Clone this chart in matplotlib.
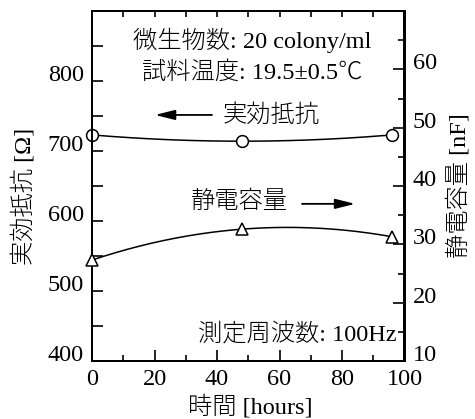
import numpy as np
import matplotlib
matplotlib.use("Agg")
import matplotlib.pyplot as plt
from matplotlib.ticker import FixedLocator, MultipleLocator

# Measurement times [hours]
hours = [0, 48, 96]
# Effective resistance [ohm] (left axis)
resistance = [723, 714, 723]
# Capacitance [nF] (right axis)
capacitance = [27.3, 32.6, 31.3]

left_ticks = [400, 500, 600, 700, 800]
right_ticks = [10, 20, 30, 40, 50, 60]
x_ticks = [0, 20, 40, 60, 80, 100]

plt.rcParams['font.family'] = ['Liberation Serif', 'Noto Sans CJK JP']
plt.rcParams['axes.linewidth'] = 1.4

fig = plt.figure(figsize=(4.75, 4.19), dpi=100)
ax = fig.add_axes([92 / 475, 58 / 419, 312.5 / 475, 350 / 419])
ax2 = ax.twinx()

TICK_FS = 17.5
TXT_FS = 17.5
TXT_W = 'light'


def smooth(xs, ys):
    coef = np.polyfit(xs, ys, 2)
    xx = np.linspace(xs[0], xs[-1], 200)
    return xx, np.polyval(coef, xx)


# Resistance curve with open circles
xr, yr = smooth(hours, resistance)
ax.plot(xr, yr, color='black', lw=1.1, clip_on=False)
ax.plot(hours, resistance, linestyle='none', marker='o', ms=8.5,
        mfc='white', mec='black', mew=1.1, clip_on=False, zorder=5)

# Capacitance curve with open triangles
xc, yc = smooth(hours, capacitance)
ax2.plot(xc, yc, color='black', lw=1.1, clip_on=False)
ax2.plot(hours, capacitance, linestyle='none', marker='^', ms=9,
         mfc='white', mec='black', mew=1.1, clip_on=False, zorder=5)

# x axis
ax.set_xlim(0, 100)
ax.xaxis.set_major_locator(FixedLocator(x_ticks))
ax.xaxis.set_minor_locator(MultipleLocator(10))
ax.set_xticklabels([str(v) for v in x_ticks])
ax.tick_params(axis='x', which='major', direction='in', length=8, width=1.2,
               labelsize=TICK_FS, pad=6)
ax.tick_params(axis='x', which='minor', direction='in', length=4.3, width=1.2)
top = ax.secondary_xaxis('top')
top.xaxis.set_major_locator(MultipleLocator(10))
top.tick_params(direction='in', length=4.3, width=1.2, labeltop=False)
top.set_xticklabels([])

# left axis
ax.set_ylim(400, 900)
ax.yaxis.set_major_locator(FixedLocator(left_ticks))
ax.yaxis.set_minor_locator(MultipleLocator(50))
ax.set_yticklabels([str(v) for v in left_ticks])
ax.tick_params(axis='y', which='both', direction='in', length=8, width=1.2,
               labelsize=TICK_FS, pad=6)

# right axis
ax2.set_ylim(10, 70)
ax2.yaxis.set_major_locator(FixedLocator(right_ticks))
ax2.yaxis.set_minor_locator(MultipleLocator(5))
ax2.set_yticklabels([str(v) for v in right_ticks])
ax2.tick_params(axis='y', which='major', direction='in', length=8, width=1.2,
                labelsize=TICK_FS, pad=6)
ax2.tick_params(axis='y', which='minor', direction='in', length=4, width=1.2)

for lbl in ax.get_yticklabels() + ax2.get_yticklabels():
    lbl.set_verticalalignment('baseline')

# Axis titles
fig.text(250 / 475, 1 - 407 / 419, '時間 [hours]', ha='center', va='center',
         fontsize=TXT_FS, fontweight=TXT_W)
fig.text(24 / 475, 1 - 196 / 419, '実効抵抗 [Ω]', ha='center', va='center',
         rotation=90, fontsize=TXT_FS, fontweight=TXT_W)
fig.text(459 / 475, 1 - 186 / 419, '静電容量 [nF]', ha='center', va='center',
         rotation=90, fontsize=TXT_FS, fontweight=TXT_W)

# Condition notes
ax.text(0.512, 0.917, '微生物数: 20 colony/ml', transform=ax.transAxes,
        ha='center', va='center', fontsize=TXT_FS, fontweight=TXT_W)
ax.text(0.512, 0.826, '試料温度: 19.5±0.5℃', transform=ax.transAxes,
        ha='center', va='center', fontsize=TXT_FS, fontweight=TXT_W)
ax.text(0.976, 0.074, '測定周波数: 100Hz', transform=ax.transAxes,
        ha='right', va='center', fontsize=TXT_FS, fontweight=TXT_W)

# Series pointers
arrow = dict(arrowstyle='-|>,head_length=1.2,head_width=0.3',
             color='black', lw=1.3, mutation_scale=10, shrinkA=0, shrinkB=0)
ax.annotate('', xy=(0.2016, 0.703), xytext=(0.384, 0.703),
            xycoords='axes fraction', textcoords='axes fraction',
            arrowprops=arrow)
ax.text(0.419, 0.703, '実効抵抗', transform=ax.transAxes,
        ha='left', va='center', fontsize=TXT_FS, fontweight=TXT_W)
ax.annotate('', xy=(0.842, 0.449), xytext=(0.672, 0.449),
            xycoords='axes fraction', textcoords='axes fraction',
            arrowprops=arrow)
ax.text(0.627, 0.454, '静電容量', transform=ax.transAxes,
        ha='right', va='center', fontsize=TXT_FS, fontweight=TXT_W)

fig.savefig('out.png', dpi=100)
